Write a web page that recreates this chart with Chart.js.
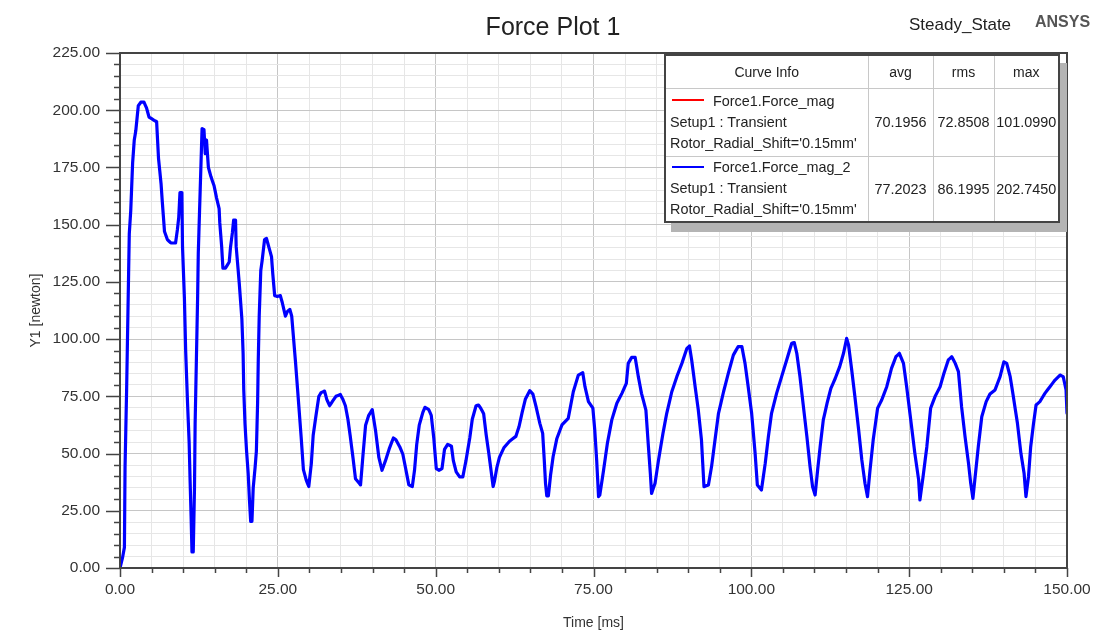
<!DOCTYPE html>
<html>
<head>
<meta charset="utf-8">
<script src="https://cdn.jsdelivr.net/npm/chart.js@4.4.1/dist/chart.umd.min.js"></script>
<style>
  html, body { margin: 0; padding: 0; background: #fff; }
  #wrap { position: relative; width: 1094px; height: 635px; font-family: "Liberation Sans", Arial, sans-serif; color: #222; }
  #plotTitle { position: absolute; left: 353px; width: 400px; top: 12px; text-align: center; font-size: 25px; }
  #stateLbl { position: absolute; left: 909px; top: 15px; font-size: 17px; }
  #brand { position: absolute; left: 1035px; top: 13px; font-size: 16px; font-weight: bold; color: #555; }
  #curveInfo { position: absolute; left: 664px; top: 54px; width: 396px; height: 169px; border: 2px solid #444;
    background: #fff; box-shadow: 7px 9px 0 #b4b4b4; box-sizing: border-box; }
  #curveInfo table { border-collapse: collapse; width: 100%; height: 100%; font-size: 14.4px; table-layout: fixed; }
  #curveInfo td { border: 1px solid #c8c8c8; padding: 0; text-align: center; white-space: nowrap; }
  #curveInfo tr:first-child td { border-top: none; font-size: 14px; }
  #curveInfo td:first-child { border-left: none; }
  #curveInfo td:last-child { border-right: none; }
  #curveInfo tr:last-child td { border-bottom: none; }
  #curveInfo td.name { text-align: left; padding-left: 4px; line-height: 21px; }
  .swatch { display: inline-block; width: 32px; height: 2px; vertical-align: middle; margin: 0 9px 3px 2px; }
</style>
</head>
<body>
<div id="wrap">
  <canvas id="forceChart" width="1094" height="635"></canvas>
  <div id="plotTitle">Force Plot 1</div>
  <div id="stateLbl">Steady_State</div>
  <div id="brand">ANSYS</div>
  <div id="curveInfo">
    <table>
      <colgroup><col style="width:202px"><col style="width:65px"><col style="width:61px"><col></colgroup>
      <tr style="height:32px"><td>Curve Info</td><td>avg</td><td>rms</td><td>max</td></tr>
      <tr style="height:68px">
        <td class="name"><span class="swatch" style="background:#ff0000"></span>Force1.Force_mag<br>Setup1 : Transient<br>Rotor_Radial_Shift='0.15mm'</td>
        <td>70.1956</td><td>72.8508</td><td>101.0990</td>
      </tr>
      <tr>
        <td class="name"><span class="swatch" style="background:#0000ff"></span>Force1.Force_mag_2<br>Setup1 : Transient<br>Rotor_Radial_Shift='0.15mm'</td>
        <td>77.2023</td><td>86.1995</td><td>202.7450</td>
      </tr>
    </table>
  </div>
</div>
<script>
// values
const timeMs = [
  0, 0.4, 0.7, 0.8, 1.05, 1.26, 1.47, 1.7, 2.0, 2.26, 2.5, 2.9, 3.3, 3.8, 4.2, 4.6, 5.4, 5.8, 6.1, 6.5,
  6.7, 7.05, 7.5, 8.05, 8.8, 9.1, 9.3, 9.5, 9.8, 9.9, 10.2, 10.4, 10.7, 10.95, 11.1, 11.26, 11.4, 11.6, 11.8, 11.9,
  12.1, 12.3, 12.4, 12.6, 12.8, 13.0, 13.3, 13.5, 13.7, 14.0, 14.4, 14.9, 15.3, 15.7, 15.8, 16.1, 16.3, 16.7, 17.3, 17.5,
  17.8, 18.0, 18.3, 18.4, 18.7, 18.9, 19.3, 19.5, 19.6, 19.8, 20.05, 20.3, 20.5, 20.7, 20.9, 21.1, 21.4, 21.6, 21.8, 21.9,
  22.05, 22.3, 22.5, 22.9, 23.2, 23.6, 24.0, 24.2, 24.5, 24.9, 25.4, 25.7, 26.2, 26.5, 26.9, 27.2, 27.5, 27.8, 28.1, 28.7,
  29.05, 29.5, 29.9, 30.3, 30.6, 31.05, 31.5, 31.85, 32.4, 32.75, 33.2, 33.7, 34.2, 34.9, 35.3, 35.7, 36.1, 36.45, 36.9, 37.3,
  37.7, 38.1, 38.5, 38.9, 39.4, 39.95, 40.5, 41.0, 41.5, 42.05, 42.7, 43.3, 43.7, 44.3, 44.8, 45.3, 45.75, 46.3, 46.65, 47.0,
  47.4, 47.97, 48.3, 48.9, 49.3, 49.7, 50.1, 50.5, 51.0, 51.4, 51.9, 52.5, 52.8, 53.25, 53.8, 54.3, 54.8, 55.4, 55.8, 56.4,
  56.8, 57.2, 57.6, 58.0, 58.4, 58.8, 59.1, 59.3, 59.7, 60.1, 60.8, 61.7, 62.7, 63.2, 63.7, 64.2, 64.9, 65.4, 65.9, 66.5,
  66.95, 67.2, 67.4, 67.6, 67.85, 68.2, 68.6, 69.2, 70.0, 71.0, 71.8, 72.6, 73.3, 73.65, 74.2, 74.9, 75.2, 75.5, 75.8, 76.0,
  76.6, 77.2, 77.9, 78.7, 79.5, 80.2, 80.5, 81.05, 81.6, 82.1, 82.6, 83.3, 83.7, 84.0, 84.2, 84.75, 85.3, 86.0, 86.6, 87.4,
  88.2, 89.0, 89.8, 90.2, 90.55, 91.1, 91.6, 92.1, 92.5, 93.2, 93.7, 94.25, 94.8, 95.6, 96.35, 97.15, 97.9, 98.5, 99.0, 99.5,
  100.05, 100.6, 100.95, 101.6, 102.2, 102.7, 103.2, 104.0, 104.8, 105.6, 106.4, 106.8, 107.2, 107.7, 108.25, 108.8, 109.3, 109.7, 110.1, 110.5,
  110.9, 111.4, 112.0, 112.6, 113.3, 114.0, 114.6, 115.1, 115.4, 115.9, 116.4, 117.0, 117.5, 118.0, 118.4, 118.8, 119.3, 120.0, 120.65, 121.45,
  122.2, 122.9, 123.45, 124.1, 124.6, 125.25, 125.9, 126.5, 126.7, 127.2, 127.8, 128.4, 129.1, 129.9, 130.5, 131.2, 131.75, 132.3, 132.8, 133.3,
  133.85, 134.4, 134.75, 135.1, 135.4, 135.95, 136.5, 137.2, 137.8, 138.6, 139.4, 140.0, 140.45, 141.0, 141.5, 142.15, 142.7, 143.2, 143.5, 143.9,
  144.25, 144.7, 145.1, 145.7, 146.5, 147.3, 148.1, 148.9, 149.4, 149.85, 150.0
];
const forceN = [
  0, 4.5, 9, 44, 78, 112, 146, 156, 177, 187, 191, 202, 203.5, 203.5, 201, 197, 195.6, 195, 179, 168,
  160, 147, 143.5, 142, 142, 148, 153, 164, 164, 140.5, 118, 95, 72, 55, 38.5, 22.7, 7, 7, 35, 63,
  91, 119, 137.5, 156, 174, 192, 191.5, 181, 187, 175, 171, 167, 161.6, 157, 151, 140.5, 131, 131, 133.7, 140,
  146.5, 152, 152, 140.5, 130.7, 124, 109, 93.7, 78, 63, 51, 41.5, 30, 20.4, 20.4, 35, 44, 51, 72.5, 90.6,
  110, 130, 134, 143.5, 144, 140, 136, 128.5, 119, 118.6, 119, 116, 110, 112, 113, 110, 100, 90, 79, 57,
  43, 38.4, 35.6, 45.5, 58, 66.7, 75, 76.6, 77.3, 73.7, 70.9, 73, 75, 75.8, 73.7, 70.9, 65, 58, 48.3, 39,
  37.7, 36.3, 49.7, 62.4, 66.7, 69.2, 59.6, 48.3, 42.7, 46.9, 52.5, 56.8, 56, 53, 49.7, 42.7, 36.3, 35.6, 42.7, 54,
  62.4, 68, 70.2, 69.2, 66.7, 56.8, 43.4, 42.7, 43.4, 51.8, 54, 53.2, 46.9, 42, 39.8, 39.8, 46.9, 56.8, 65, 70.9,
  71.2, 69.5, 67.4, 58.2, 50.4, 42, 35.6, 37.7, 44, 48.3, 52.5, 55.4, 57.5, 61.7, 68, 73.7, 77.5, 76, 70.5, 63.2,
  58.8, 47.2, 37, 31.5, 31.5, 40.6, 48.6, 56.6, 62.5, 65.4, 77, 84.3, 85.3, 79.2, 72.7, 69.8, 60.3, 47.2, 31.2, 31.9,
  42.8, 54.5, 64.7, 72, 76.3, 80.7, 89.4, 92, 92, 83.6, 76.3, 69, 53, 41.4, 32.6, 37, 47.2, 58.8, 67.6, 77,
  83.6, 89.4, 96, 97, 90.9, 79.2, 69, 56, 35.5, 36.3, 44.3, 56, 67.6, 77, 85, 93, 96.7, 96.7, 89.4, 79.2,
  67.6, 50.1, 36.3, 34.1, 45.7, 57.4, 67.6, 76.3, 83.6, 90.9, 98.2, 98.5, 93.8, 83.6, 70.5, 57.4, 44.3, 35.5, 31.9, 42.8,
  53, 64.7, 72, 78.5, 82.9, 88, 93.8, 100.3, 97.4, 86.5, 74.9, 60.3, 47.2, 37, 31.2, 42.8, 55.9, 69.8, 73.4, 79.2,
  87.2, 92.3, 93.8, 89.4, 79.2, 64.7, 50.1, 38.5, 29.7, 39.9, 53, 69.8, 74.9, 79.2, 85, 90.9, 92.3, 89.4, 85.8, 70.5,
  57.4, 45.7, 37, 30.4, 38.5, 53, 66.1, 72.7, 76, 77.8, 83.6, 90.1, 89.4, 83.6, 74.9, 63.2, 50.1, 41.4, 31.2, 39.9,
  53, 63.2, 71.2, 72.7, 76.3, 79.2, 82.1, 84.3, 83.6, 77.8, 67.6
];
const xRange = [0, 150];
const yRange = [0, 225];

const fontFamily = '"Liberation Sans", Arial, sans-serif';

function gridColor(ctx) {
  return ctx.tick && ctx.tick.value % 25 === 0 ? "#c6c6c6" : "#e6e6e6";
}
function fmtTick(v) {
  return v % 25 === 0 ? v.toFixed(2) : "";
}

// box around plot + tick marks (long at 25, short at 5)
const frameTicks = {
  id: "frameTicks",
  afterDraw(chart) {
    const { ctx, chartArea: a, scales } = chart;
    ctx.save();
    ctx.strokeStyle = "#444";
    ctx.lineWidth = 2;
    ctx.strokeRect(a.left, a.top, a.right - a.left, a.bottom - a.top);
    ctx.lineWidth = 1.5;
    ctx.beginPath();
    for (let v = xRange[0]; v <= xRange[1]; v += 5) {
      const px = Math.round(scales.x.getPixelForValue(v)) + 0.5;
      ctx.moveTo(px, a.bottom);
      ctx.lineTo(px, a.bottom + (v % 25 === 0 ? 9 : 5));
    }
    for (let v = yRange[0]; v <= yRange[1]; v += 5) {
      const py = Math.round(scales.y.getPixelForValue(v)) + 0.5;
      ctx.moveTo(a.left, py);
      ctx.lineTo(a.left - (v % 25 === 0 ? 14 : 6), py);
    }
    ctx.stroke();
    ctx.restore();
  }
};

const points = timeMs.map((t, i) => ({ x: t, y: forceN[i] }));

new Chart(document.getElementById("forceChart"), {
  type: "line",
  data: {
    datasets: [{
      label: "Force1.Force_mag_2",
      data: points,
      borderColor: "#0000ff",
      borderWidth: 3.2,
      borderJoinStyle: "round",
      borderCapStyle: "round",
      pointRadius: 0,
      tension: 0.0001, // tiny tension keeps chart.js off its per-pixel fast path
      fill: false
    }]
  },
  options: {
    responsive: false,
    animation: false,
    events: [],
    layout: { padding: { left: 0, top: 53, right: 27, bottom: 0 } },
    plugins: { legend: { display: false }, tooltip: { enabled: false } },
    scales: {
      x: {
        type: "linear",
        min: xRange[0],
        max: xRange[1],
        afterFit: (s) => { s.height = 67; s.paddingLeft = 0; s.paddingRight = 0; },
        grid: { color: gridColor, drawTicks: false, lineWidth: 1 },
        border: { display: true, color: "#444", width: 2 },
        ticks: { stepSize: 5, autoSkip: false, maxRotation: 0, padding: 12, callback: fmtTick,
          color: "#333", font: { family: fontFamily, size: 15.5 } },
        title: { display: true, text: "Time [ms]", color: "#333", padding: { top: 0, bottom: 3 },
          font: { family: fontFamily, size: 14 } }
      },
      y: {
        type: "linear",
        min: yRange[0],
        max: yRange[1],
        afterFit: (s) => { s.width = 120; s.paddingTop = 0; s.paddingBottom = 0; },
        grid: { color: gridColor, drawTicks: false, lineWidth: 1 },
        border: { display: true, color: "#444", width: 2 },
        ticks: { stepSize: 5, autoSkip: false, padding: 20, callback: fmtTick,
          color: "#333", font: { family: fontFamily, size: 15.5 } },
        title: { display: true, text: "Y1 [newton]", color: "#333", padding: { top: 28, bottom: 0 },
          font: { family: fontFamily, size: 14 } }
      }
    }
  },
  plugins: [frameTicks]
});
</script>
</body>
</html>
